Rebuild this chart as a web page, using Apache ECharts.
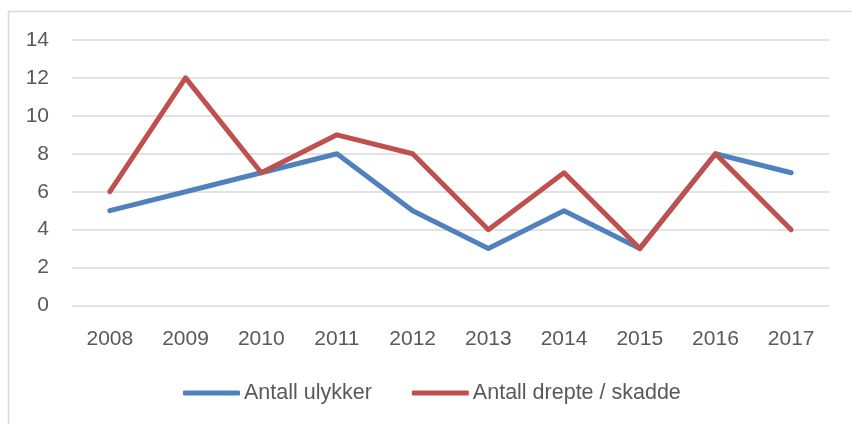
<!DOCTYPE html>
<html><head><meta charset="utf-8">
<script src="https://cdn.jsdelivr.net/npm/echarts@6/dist/echarts.min.js"></script>
<style>html,body{margin:0;padding:0;background:#fff}#c{width:852px;height:424px}</style>
</head><body><div id="c"></div>
<script>
const years = ['2008','2009','2010','2011','2012','2013','2014','2015','2016','2017'];
const ulykker = [5,6,7,8,5,3,5,3,8,7];
const drepte = [6,12,7,9,8,4,7,3,8,4];
const seriesNames = ['Antall ulykker','Antall drepte / skadde'];
const FONT = 'Liberation Sans';
const chart = echarts.init(document.getElementById('c'), null, {renderer:'canvas'});
chart.setOption({
  animation:false,
  backgroundColor:'#fff',
  graphic:[{type:'rect',shape:{x:8.5,y:11.5,width:900,height:500},style:{fill:'none',stroke:'#D9D9D9',lineWidth:1.5},silent:true}],
  grid:{left:72,right:23,top:40,bottom:118.5,containLabel:false},
  legend:{left:178,top:377,itemWidth:57,itemHeight:5,itemGap:40,icon:'roundRect',
    textStyle:{fontFamily:FONT,fontSize:21.5,color:'#595959',padding:[0,0,0,-1]},
    data:seriesNames},
  xAxis:{type:'category',data:years,boundaryGap:true,
    axisLine:{show:false},axisTick:{show:false},
    axisLabel:{fontFamily:FONT,fontSize:21,color:'#595959',margin:23}},
  yAxis:{type:'value',min:0,max:14,interval:2,
    axisLine:{show:false},axisTick:{show:false},
    splitLine:{lineStyle:{color:'#D9D9D9',width:1.5}},
    axisLabel:{fontFamily:FONT,fontSize:21,color:'#595959',margin:23}},
  series:[
    {name:seriesNames[0],type:'line',data:ulykker,symbol:'none',color:'#4F81BD',
      lineStyle:{width:5,cap:'round',join:'round'}},
    {name:seriesNames[1],type:'line',data:drepte,symbol:'none',color:'#C0504D',
      lineStyle:{width:5,cap:'round',join:'round'}}
  ]
});
</script></body></html>
